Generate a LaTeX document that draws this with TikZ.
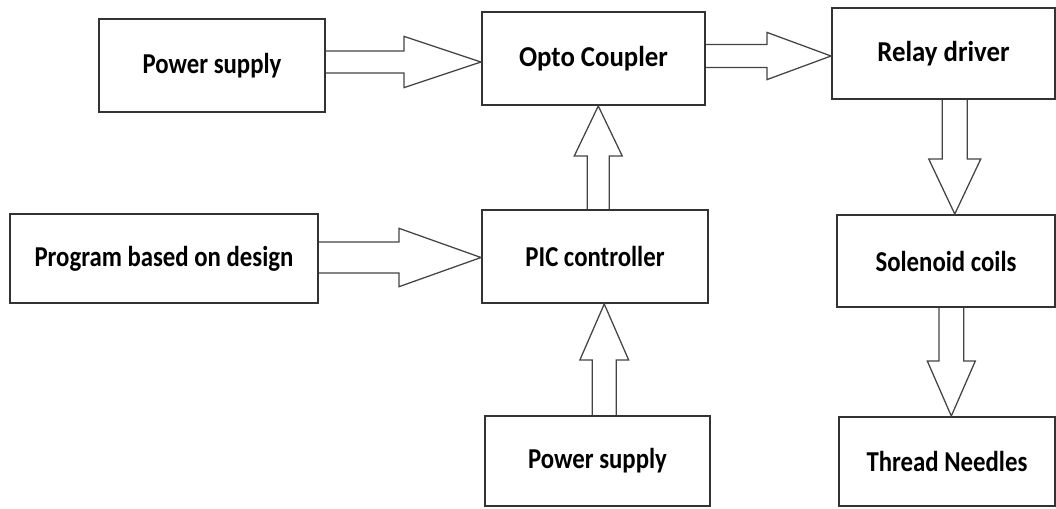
\documentclass[tikz,border=0pt]{standalone}
\usepackage{fontspec}
\setmainfont{Carlito}[FakeStretch=0.86]
\newfontfamily\widefont{Carlito}[FakeStretch=0.93]
\usetikzlibrary{calc}
\definecolor{boxline}{HTML}{333333}
\definecolor{arrline}{HTML}{444444}

\tikzset{
  block/.style={draw=boxline, line width=1.4pt, inner sep=0pt,
    font=\bfseries\fontsize{20.5}{24}\selectfont},
  fatarrow/.style={draw=arrline, line width=0.9pt, line join=miter},
}

% wide outline arrows: from, to, shaft half width, head half width, head length
\newcommand{\fatright}[5]{%
  \draw[fatarrow] let \p1=(#1), \p2=(#2), \p3=($(\p1)!0.5!(\p2)$) in
    (\x1,\y3+#3) -- (\x2-#5,\y3+#3) -- (\x2-#5,\y3+#4) -- (\x2,\y3)
    -- (\x2-#5,\y3-#4) -- (\x2-#5,\y3-#3) -- (\x1,\y3-#3);}
\newcommand{\fatup}[5]{%
  \draw[fatarrow] let \p1=(#1), \p2=(#2), \p3=($(\p1)!0.5!(\p2)$) in
    (\x3-#3,\y1) -- (\x3-#3,\y2-#5) -- (\x3-#4,\y2-#5) -- (\x3,\y2)
    -- (\x3+#4,\y2-#5) -- (\x3+#3,\y2-#5) -- (\x3+#3,\y1);}
\newcommand{\fatdown}[5]{%
  \draw[fatarrow] let \p1=(#1), \p2=(#2), \p3=($(\p1)!0.5!(\p2)$) in
    (\x3-#3,\y1) -- (\x3-#3,\y2+#5) -- (\x3-#4,\y2+#5) -- (\x3,\y2)
    -- (\x3+#4,\y2+#5) -- (\x3+#3,\y2+#5) -- (\x3+#3,\y1);}

\begin{document}
\begin{tikzpicture}[x=0.025cm,y=-0.025cm]
  \useasboundingbox (0,0) rectangle (1056,508);
  \fill[white] (0,0) rectangle (1056,508);

  % blocks
  \node[block, minimum width=5.65cm, minimum height=2.325cm] (psA) at (212,65.5) {Power supply};
  \node[block, minimum width=5.575cm, minimum height=2.325cm] (opto) at (593.5,58.5) {\widefont Opto Coupler};
  \node[block, minimum width=5.575cm, minimum height=2.275cm] (relay) at (943.5,53.5) {\widefont Relay driver};
  \node[block, minimum width=7.7cm, minimum height=2.225cm] (prog) at (164,258.5) {Program based on design};
  \node[block, minimum width=5.65cm, minimum height=2.325cm] (pic) at (595,256.5) {PIC controller};
  \node[block, minimum width=5.45cm, minimum height=2.3cm] (sol) at (946,261) {Solenoid coils};
  \node[block, minimum width=5.625cm, minimum height=2.25cm] (psB) at (597.5,461) {Power supply};
  \node[block, minimum width=5.4cm, minimum height=2.225cm] (thread) at (947,461.5) {Thread Needles};

  % arrows
  \fatright{psA.east}{opto.west}{0.275cm}{0.64cm}{1.925cm}
  \fatright{opto.east}{relay.west}{0.29cm}{0.59cm}{1.6cm}
  \fatright{prog.east}{pic.west}{0.39cm}{0.73cm}{2.05cm}
  \fatup{[xshift=0.1cm]pic.north}{[xshift=0.1cm]opto.south}{0.275cm}{0.6cm}{1.25cm}
  \fatup{[xshift=0.2cm]psB.north}{[xshift=0.2cm]pic.south}{0.3cm}{0.61cm}{1.4cm}
  \fatdown{[xshift=0.25cm]relay.south}{[xshift=0.25cm]sol.north}{0.31cm}{0.65cm}{1.375cm}
  \fatdown{[xshift=0.12cm]sol.south}{[xshift=0.12cm]thread.north}{0.31cm}{0.6cm}{1.375cm}
\end{tikzpicture}
\end{document}
